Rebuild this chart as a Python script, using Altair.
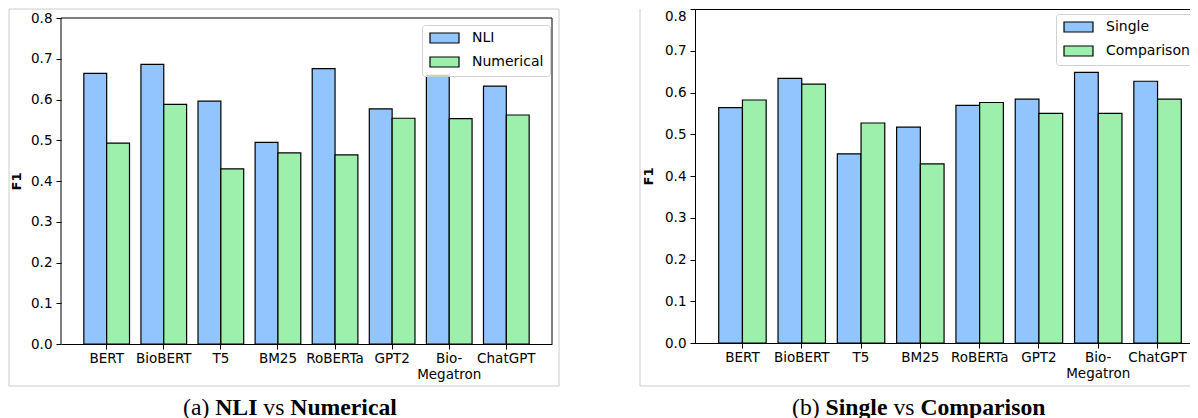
import altair as alt
import pandas as pd

# ---------------- data ----------------
models = ["BERT", "BioBERT", "T5", "BM25", "RoBERTa", "GPT2", "Bio-Megatron", "ChatGPT"]
nli = [0.664, 0.686, 0.596, 0.495, 0.676, 0.577, 0.659, 0.633]
numerical = [0.493, 0.588, 0.430, 0.469, 0.464, 0.554, 0.553, 0.562]
single = [0.564, 0.634, 0.453, 0.517, 0.569, 0.584, 0.648, 0.627]
comparison = [0.582, 0.620, 0.527, 0.429, 0.576, 0.550, 0.550, 0.584]
series_a = ["NLI", "Numerical"]
series_b = ["Single", "Comparison"]
y_ticks = [0.0, 0.1, 0.2, 0.3, 0.4, 0.5, 0.6, 0.7, 0.8]
caption_a = [("(a)", "normal"), ("NLI", "bold"), ("vs", "normal"), ("Numerical", "bold")]
caption_b = [("(b)", "normal"), ("Single", "bold"), ("vs", "normal"), ("Comparison", "bold")]

BLUE = "#92c5fd"
GREEN = "#9cf0ac"
FRAME = "#cccccc"
CAP_SIZE = 23.7

# Times (Liberation Serif) advance widths per 1000 em, used to lay out caption pieces
REG = {"(": 333, ")": 333, "a": 444, "b": 500, "v": 500, "s": 389, " ": 250}
BOLD = {"N": 722, "L": 667, "I": 389, "u": 556, "m": 833, "e": 444, "r": 444, "i": 278,
        "c": 444, "a": 500, "l": 278, "S": 556, "n": 556, "g": 500, "C": 722, "o": 500,
        "p": 556, "s": 389}


def text_width(s, weight):
    table = BOLD if weight == "bold" else REG
    return sum(table.get(ch, 500) for ch in s) * CAP_SIZE / 1000.0


def caption_layers(pieces, x0, ybase):
    layers = []
    x = x0
    space = 250 * CAP_SIZE / 1000.0
    for txt, weight in pieces:
        layers.append(
            alt.Chart(pd.DataFrame({"t": [txt]}))
            .mark_text(font="Liberation Serif", fontSize=CAP_SIZE, fontWeight=weight,
                       align="left", baseline="alphabetic", color="black")
            .encode(text="t:N", x=alt.value(x), y=alt.value(ybase))
        )
        x += text_width(txt, weight) + space
    return layers


def long_df(v1, v2, names):
    rows = []
    for m, a, b in zip(models, v1, v2):
        rows.append({"model": m, "series": names[0], "f1": a})
        rows.append({"model": m, "series": names[1], "f1": b})
    return pd.DataFrame(rows)


LEG_PATH = "M-1,-1H4.8V1H-1Z"


def bars(v1, v2, names, ytop, title_x, title_y, legend_y, flush_top, domain):
    y_axis_kw = dict(title="F1", values=y_ticks, format=".1f", titleX=title_x, titleY=title_y,
                     titleAngle=270, titleBaseline="middle", titleAlign="center", labelPadding=4,
                     domain=domain)
    if flush_top:
        y_axis_kw["labelBaseline"] = {"condition": {"test": "datum.value >= 0.79", "value": "top"},
                                      "value": "middle"}
    return alt.Chart(long_df(v1, v2, names)).mark_bar(stroke="black", strokeWidth=1.2).encode(
        x=alt.X("model:N", sort=models,
                scale=alt.Scale(paddingInner=0.2, paddingOuter=0.4),
                axis=alt.Axis(title=None, labelAngle=0, labelOverlap=False, labelPadding=2,
                              labelLineHeight=16,
                              labelExpr="datum.label == 'Bio-Megatron' ? ['Bio-', 'Megatron'] : datum.label")),
        xOffset=alt.XOffset("series:N", sort=names, scale=alt.Scale(paddingInner=0, paddingOuter=0)),
        y=alt.Y("f1:Q", scale=alt.Scale(domain=[0, ytop], nice=False, zero=True),
                axis=alt.Axis(**y_axis_kw)),
        color=alt.Color("series:N", sort=names,
                        scale=alt.Scale(domain=names, range=[BLUE, GREEN]),
                        legend=alt.Legend(title=None, orient="none", legendX=361, legendY=legend_y,
                                          symbolType=LEG_PATH, symbolSize=100,
                                          symbolStrokeColor="black", symbolStrokeWidth=1.2,
                                          symbolOpacity=1,
                                          labelFont="DejaVu Sans", labelFontSize=14,
                                          labelColor="black", labelOffset=30, rowPadding=8,
                                          padding=6, fillColor="rgba(255,255,255,0.8)",
                                          strokeColor="#d0d0d0", cornerRadius=3)),
    )


one = pd.DataFrame({"k": [0]})

# ---------------- left panel ----------------
# the left plot area is 9px taller than its 0..0.8 box so that both panels share one top edge
LW, LH, LOFF = 491, 335, 9
left_ytop = 0.8 * LH / (LH - LOFF)
left_frame = alt.Chart(one).mark_rect(fill="white", fillOpacity=0, stroke=FRAME, strokeWidth=1).encode(
    x=alt.value(-52), x2=alt.value(498), y=alt.value(0), y2=alt.value(377))
spine_style = dict(color="black", strokeWidth=1)
left_spines = [
    alt.Chart(one).mark_rule(**spine_style).encode(x=alt.value(0), x2=alt.value(LW), y=alt.value(LOFF)),
    alt.Chart(one).mark_rule(**spine_style).encode(x=alt.value(0), y=alt.value(LOFF), y2=alt.value(LH)),
    alt.Chart(one).mark_rule(**spine_style).encode(x=alt.value(LW), y=alt.value(LOFF), y2=alt.value(LH)),
]
left = alt.layer(
    left_frame,
    bars(nli, numerical, series_a, left_ytop, -45, 172, 16, False, False),
    *left_spines,
    *caption_layers(caption_a, 122, 405.5),
).properties(width=LW, height=LH, view=alt.ViewBackground(stroke="transparent"))

# ---------------- right panel ----------------
right_frame_v = alt.Chart(one).mark_rule(color=FRAME, strokeWidth=1).encode(
    x=alt.value(-55), y=alt.value(0), y2=alt.value(377))
right_frame_h = alt.Chart(one).mark_rule(color=FRAME, strokeWidth=1).encode(
    x=alt.value(-55), x2=alt.value(506), y=alt.value(377))
right = alt.layer(
    right_frame_v, right_frame_h,
    bars(single, comparison, series_b, 0.8, -47, 167, 5, True, True),
    *caption_layers(caption_b, 97, 405.5),
).properties(width=510, height=334)

chart = (
    alt.hconcat(left, right, spacing=79)
    .resolve_scale(x="independent", y="independent", color="independent", xOffset="independent")
    .resolve_legend(color="independent")
    .properties(padding={"left": 0, "top": 0, "right": -16, "bottom": 0})
    .configure_view(stroke="black", strokeWidth=1)
    .configure_axis(labelFont="DejaVu Sans", labelFontSize=13.5, labelColor="black",
                    titleFont="DejaVu Sans", titleFontSize=13, titleFontWeight="bold",
                    titleColor="black", tickColor="black", tickSize=5, tickWidth=1,
                    domainColor="black", domainWidth=1, grid=False)
)

chart.save("out.html", embed_options={"renderer": "svg", "actions": False})
